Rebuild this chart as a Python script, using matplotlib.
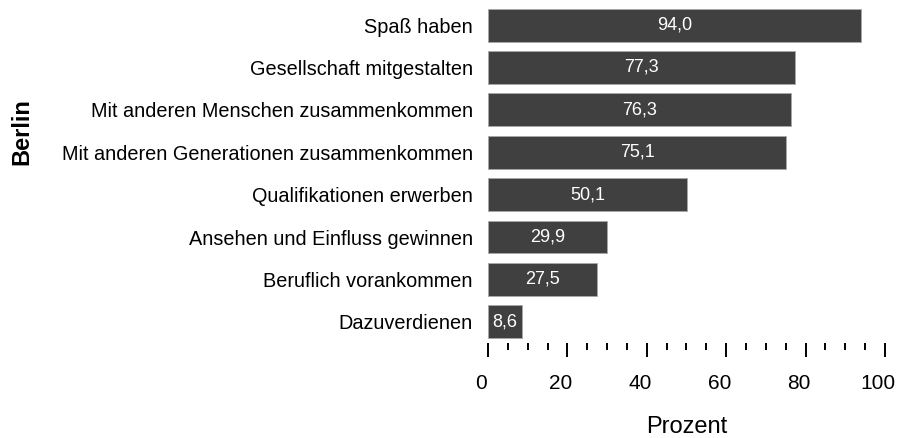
import numpy as np
import matplotlib.pyplot as plt
import matplotlib.transforms as mtransforms
from matplotlib.ticker import MultipleLocator

plt.rcParams['font.family'] = ['Liberation Sans', 'DejaVu Sans']

# Daten
kategorien = ["Spaß haben", "Gesellschaft mitgestalten",
              "Mit anderen Menschen zusammenkommen",
              "Mit anderen Generationen zusammenkommen",
              "Qualifikationen erwerben", "Ansehen und Einfluss gewinnen",
              "Beruflich vorankommen", "Dazuverdienen"]
werte = [94.0, 77.3, 76.3, 75.1, 50.1, 29.9, 27.5, 8.6]

fig = plt.figure(figsize=(9.04, 4.38), dpi=100)
ax = fig.add_axes([0.5398, 0.2169, 0.4392, 0.7744])

y = np.arange(len(kategorien))
ax.barh(y, werte, height=0.778, color="#404040", edgecolor="#a8a8a8", linewidth=0.6)

for yi, w in zip(y, werte):
    ax.text(w / 2, yi, f"{w:.1f}".replace(".", ","), color="white",
            ha="center", va="center", fontsize=13)

ax.set_yticks(y)
ax.set_yticklabels(kategorien, fontsize=14.3)
ax.set_ylim(len(kategorien) - 0.5, -0.5)
ax.set_xlim(0, 100)

ax.xaxis.set_major_locator(MultipleLocator(20))
ax.xaxis.set_minor_locator(MultipleLocator(5))
ax.tick_params(axis="x", which="major", length=10, width=1.4, pad=12, labelsize=15)
ax.tick_params(axis="x", which="minor", length=5, width=1.4)
ax.tick_params(axis="y", length=0, pad=11)

# Tick-Beschriftungen leicht nach links versetzt wie im Original
versatz = mtransforms.ScaledTranslation(-7 / 100, 0, fig.dpi_scale_trans)
for lbl in ax.get_xticklabels():
    lbl.set_transform(lbl.get_transform() + versatz)

for s in ax.spines.values():
    s.set_visible(False)

ax.set_xlabel("Prozent", fontsize=17, labelpad=17)
fig.text(0.024, 0.70, "Berlin", rotation=90, fontsize=17, fontweight="bold",
         ha="center", va="center")

fig.savefig("out.png", dpi=100)
